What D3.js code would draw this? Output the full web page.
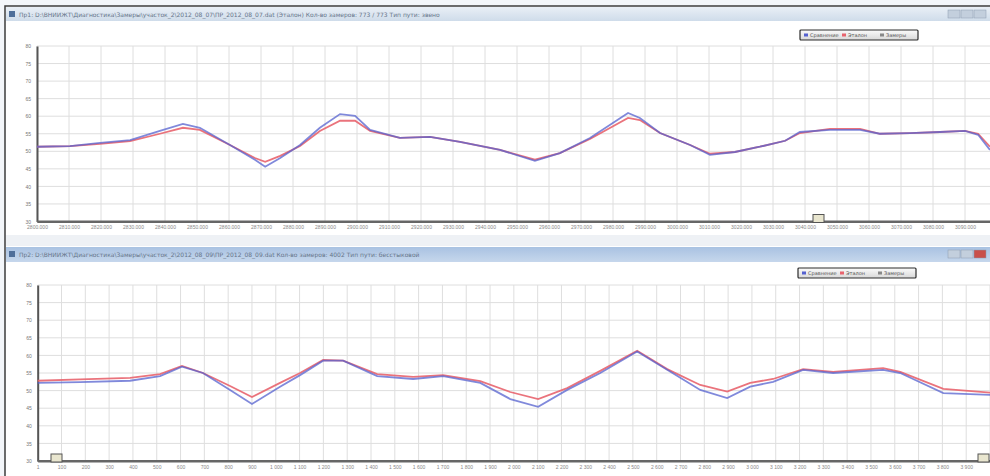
<!DOCTYPE html>
<html>
<head>
<meta charset="utf-8">
<script src="https://cdn.jsdelivr.net/npm/d3@7"></script>
<style>
  body { margin: 0; background: #f3f6fa; }
  svg { display: block; font-family: "DejaVu Sans", sans-serif; }
</style>
</head>
<body>
<div class="container"></div>
<script>
const wd = 990
const ht = 476

// top window: distance (km) and two profiles
const topX = [2800, 2810.3, 2819.7, 2829.1, 2838.4, 2845.6, 2850.9, 2860.3, 2868.1, 2871.3, 2876, 2882.2, 2888.4, 2894.7, 2899.4, 2904.1, 2913.4, 2922.8, 2932.2, 2944.7, 2955.6, 2963.4, 2972.8, 2984.7, 2988.4, 2994.7, 3004.1, 3010.3, 3018.1, 3025.9, 3033.8, 3038.4, 3047.8, 3057.2, 3063.4, 3072.8, 3082.2, 3090, 3094.1, 3097.8]
const topBlue = [51.3, 51.5, 52.4, 53.2, 55.8, 57.8, 56.7, 51.8, 47.6, 45.6, 48.1, 51.8, 56.7, 60.6, 60.1, 56.1, 53.8, 54.1, 52.7, 50.4, 47.3, 49.5, 53.8, 60.9, 59.5, 55.2, 51.8, 49.0, 49.8, 51.3, 53.0, 55.5, 56.1, 56.1, 55.0, 55.2, 55.5, 55.8, 54.7, 50.4]
const topRed  = [51.3, 51.5, 52.1, 52.9, 55.0, 56.7, 56.1, 51.8, 48.1, 47.0, 48.7, 51.5, 55.8, 58.7, 58.7, 55.8, 53.8, 54.1, 52.7, 50.4, 47.6, 49.5, 53.5, 59.5, 58.9, 55.2, 51.8, 49.3, 49.8, 51.3, 53.0, 55.2, 56.4, 56.4, 55.0, 55.2, 55.5, 55.8, 55.0, 51.3]

// bottom window: sample number and two profiles
const botX = [0, 178, 388, 514, 606, 694, 808, 900, 1018, 1102, 1199, 1283, 1426, 1577, 1703, 1859, 1985, 2102, 2224, 2363, 2518, 2644, 2783, 2896, 2993, 3089, 3215, 3341, 3551, 3623, 3804, 4002]
const botBlue = [52.2, 52.4, 52.8, 54.1, 56.8, 55.0, 50.2, 46.2, 51.1, 54.4, 58.5, 58.5, 54.1, 53.3, 54.1, 52.2, 47.6, 45.4, 50.2, 55.0, 61.1, 55.9, 50.2, 47.9, 51.1, 52.5, 55.9, 55.0, 55.9, 55.0, 49.3, 48.8]
const botRed  = [52.8, 53.2, 53.6, 54.7, 57.0, 55.0, 51.3, 48.2, 52.2, 55.0, 58.7, 58.5, 54.7, 53.9, 54.4, 52.7, 49.6, 47.6, 50.7, 55.6, 61.3, 56.1, 51.6, 49.7, 52.2, 53.3, 56.1, 55.3, 56.4, 55.3, 50.5, 49.4]

const yTicks = [30, 35, 40, 45, 50, 55, 60, 65, 70, 75, 80]
const topTicks = d3.range(2800, 3101, 10)
const botTicks = d3.range(0, 4001, 100)
const legendNames = ["Сравнение", "Эталон", "Замеры"]

const svg = d3.select(".container")
  .append("svg")
  .attr("width", wd)
  .attr("height", ht)

const defs = svg.append("defs")
const g1 = defs.append("linearGradient").attr("id", "titleA").attr("x1", 0).attr("x2", 0).attr("y1", 0).attr("y2", 1)
g1.append("stop").attr("offset", 0).attr("stop-color", "#e9eff6")
g1.append("stop").attr("offset", 1).attr("stop-color", "#cfdcea")
const g2 = defs.append("linearGradient").attr("id", "titleB").attr("x1", 0).attr("x2", 0).attr("y1", 0).attr("y2", 1)
g2.append("stop").attr("offset", 0).attr("stop-color", "#a9c2e2")
g2.append("stop").attr("offset", 1).attr("stop-color", "#c6d7ec")
const g3 = defs.append("linearGradient").attr("id", "legendFill").attr("x1", 0).attr("x2", 0).attr("y1", 0).attr("y2", 1)
g3.append("stop").attr("offset", 0).attr("stop-color", "#fbfbfb")
g3.append("stop").attr("offset", 1).attr("stop-color", "#d8d8d8")

// page + window frames
svg.append("rect").attr("width", wd).attr("height", ht).attr("fill", "#f3f6fa")
svg.append("rect").attr("x", 5).attr("y", 6).attr("width", wd).attr("height", ht)
  .attr("fill", "#ffffff").attr("stroke", "#3c3c3c").attr("stroke-width", 1.5)

function drawWindow(opt) {
  // title bar
  svg.append("rect").attr("x", 6).attr("y", opt.barY).attr("width", wd).attr("height", opt.barH)
    .attr("fill", opt.barFill)
  svg.append("rect").attr("x", 9).attr("y", opt.barY + 4).attr("width", 6).attr("height", 6)
    .attr("fill", "#4f6f9a")
  svg.append("text").attr("x", 19).attr("y", opt.barY + 10)
    .attr("font-size", 6).attr("fill", "#66758a")
    .text(opt.title)
  const btn = [948, 961, 974]
  svg.selectAll(null).data(btn).enter().append("rect")
    .attr("x", d => d).attr("y", opt.barY + 3).attr("width", 12).attr("height", 8)
    .attr("fill", (d, i) => (opt.redClose && i == 2) ? "#c9504a" : "#c3cfdd")
    .attr("stroke", "#8c9bb0").attr("stroke-width", 0.5)

  const x = d3.scaleLinear().domain(opt.xDomain).range(opt.xRange)
  const y = d3.scaleLinear().domain([30, 80]).range([opt.bottom, opt.top])
  const g = svg.append("g")

  // only label ticks that fit inside the visible window
  const labelTicks = opt.xTicks.filter(d => x(d) + 11 < wd)

  // grid
  g.selectAll(null).data(yTicks).enter().append("line")
    .attr("x1", opt.xRange[0]).attr("x2", wd)
    .attr("y1", d => y(d)).attr("y2", d => y(d))
    .attr("stroke", "#dedede").attr("stroke-width", 1)
  g.selectAll(null).data(opt.xTicks).enter().append("line")
    .attr("x1", d => x(d)).attr("x2", d => x(d))
    .attr("y1", opt.top).attr("y2", opt.bottom)
    .attr("stroke", "#dedede").attr("stroke-width", 1)

  // axes
  const yAxis = d3.axisLeft(y).tickValues(yTicks).tickSize(0).tickPadding(6)
  g.append("g").attr("transform", "translate(" + opt.xRange[0] + ",0)").call(yAxis)
    .call(a => a.select(".domain").attr("stroke", "#555").attr("stroke-width", 2))
    .call(a => a.selectAll("text").attr("font-size", 5).attr("fill", "#777"))
  const xAxis = d3.axisBottom(x).tickValues(labelTicks).tickSize(0).tickPadding(4).tickFormat(opt.fmt)
  g.append("g").attr("transform", "translate(0," + opt.bottom + ")").call(xAxis)
    .call(a => a.select(".domain").attr("stroke", "#666").attr("stroke-width", 2))
    .call(a => a.selectAll("text").attr("font-size", 5).attr("fill", "#888"))
  g.append("line").attr("x1", opt.xRange[0]).attr("x2", wd)
    .attr("y1", opt.bottom).attr("y2", opt.bottom)
    .attr("stroke", "#666").attr("stroke-width", 2)

  // curves
  const line = d3.line().x((d, i) => x(opt.xs[i])).y(d => y(d))
  g.append("path").datum(opt.red).attr("d", line)
    .attr("fill", "none").attr("stroke", "#e8646e").attr("stroke-width", 1.8).attr("stroke-opacity", 0.9)
  g.append("path").datum(opt.blue).attr("d", line)
    .attr("fill", "none").attr("stroke", "#5561cf").attr("stroke-width", 1.8).attr("stroke-opacity", 0.75)

  // legend
  const lg = svg.append("g").attr("transform", "translate(" + opt.legX + "," + opt.legY + ")")
  lg.append("rect").attr("width", 118).attr("height", 10).attr("rx", 1)
    .attr("fill", "url(#legendFill)").attr("stroke", "#2c2c2c").attr("stroke-width", 1.2)
  lg.selectAll(null).data(legendNames).enter().append("text")
    .attr("x", (d, i) => 10 + i * 38).attr("y", 7)
    .attr("font-size", 5).attr("fill", "#555")
    .text(d => d)
  lg.selectAll(null).data(["#5561cf", "#e8646e", "#888"]).enter().append("rect")
    .attr("x", (d, i) => 4 + i * 38).attr("y", 3.5).attr("width", 4).attr("height", 3)
    .attr("fill", d => d)

  // slider markers
  svg.selectAll(null).data(opt.markers).enter().append("rect")
    .attr("x", d => d).attr("y", opt.bottom - 7).attr("width", 11).attr("height", 8)
    .attr("fill", "#e9e6cf").attr("stroke", "#555").attr("stroke-width", 1)
}

drawWindow({
  barY: 7, barH: 14, barFill: "url(#titleA)", redClose: false,
  title: "Пр1: D:\\ВНИИЖТ\\Диагностика\\Замеры\\участок_2\\2012_08_07\\ПР_2012_08_07.dat (Эталон)  Кол-во замеров: 773 / 773  Тип пути: звено",
  xDomain: [2800, 3100], xRange: [37, 997], xTicks: topTicks, fmt: d3.format(".3f"),
  top: 46, bottom: 221.5, xs: topX, blue: topBlue, red: topRed,
  legX: 800, legY: 30, markers: [813]
})
svg.append("rect").attr("x", 6).attr("y", 235).attr("width", wd).attr("height", 11).attr("fill", "#eef1f5")

drawWindow({
  barY: 247, barH: 15, barFill: "url(#titleB)", redClose: true,
  title: "Пр2: D:\\ВНИИЖТ\\Диагностика\\Замеры\\участок_2\\2012_08_09\\ПР_2012_08_09.dat  Кол-во замеров: 4002  Тип пути: бесстыковой",
  xDomain: [0, 4000], xRange: [37.7, 990], xTicks: botTicks, fmt: d => d == 0 ? "1" : d3.format(",")(d).replace(",", " "),
  top: 285, bottom: 461, xs: botX, blue: botBlue, red: botRed,
  legX: 798, legY: 268, markers: [51, 978]
})
</script>
</body>
</html>
